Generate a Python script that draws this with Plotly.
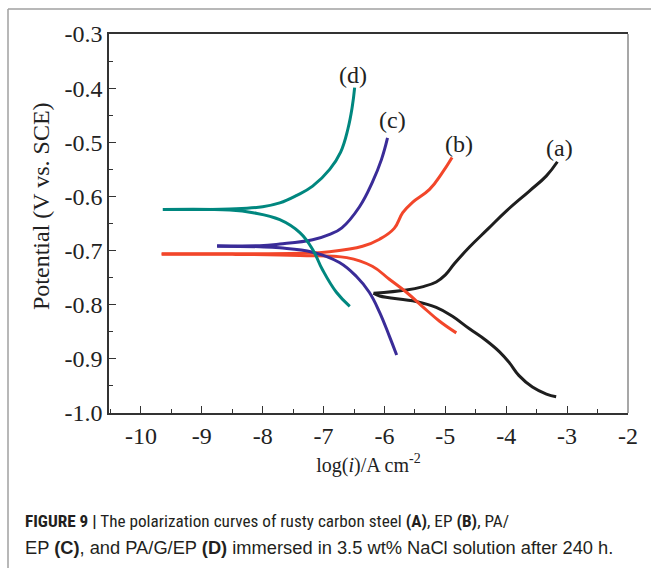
import plotly.graph_objects as go

# ---- data (log i in A/cm2, potential in V vs SCE) ----
a_cath_logi = [-6.18, -6.08, -5.48, -5.15, -4.89, -4.61, -4.33, -4.11, -3.95, -3.79, -3.57, -3.34, -3.18]
a_cath_E    = [-0.779, -0.784, -0.794, -0.805, -0.821, -0.844, -0.866, -0.887, -0.907, -0.931, -0.952, -0.965, -0.970]
a_anod_logi = [-6.18, -5.64, -5.38, -5.15, -5.00, -4.85, -4.60, -4.30, -4.00, -3.62, -3.34, -3.16]
a_anod_E    = [-0.779, -0.773, -0.767, -0.758, -0.745, -0.724, -0.693, -0.660, -0.627, -0.590, -0.562, -0.536]

b_cath_logi = [-9.66, -8.50, -7.39, -6.62, -6.20, -5.92, -5.64, -5.38, -5.10, -4.82]
b_cath_E    = [-0.707, -0.707, -0.709, -0.713, -0.729, -0.753, -0.777, -0.803, -0.830, -0.852]
b_anod_logi = [-9.66, -8.50, -7.39, -6.90, -6.36, -6.08, -5.84, -5.70, -5.54, -5.26, -5.05, -4.89]
b_anod_E    = [-0.706, -0.706, -0.705, -0.702, -0.692, -0.679, -0.659, -0.630, -0.611, -0.587, -0.556, -0.528]

c_cath_logi = [-8.75, -8.05, -7.72, -7.18, -6.74, -6.46, -6.25, -6.08, -5.92, -5.80]
c_cath_E    = [-0.692, -0.693, -0.695, -0.703, -0.722, -0.748, -0.777, -0.814, -0.858, -0.893]
c_anod_logi = [-8.75, -8.05, -7.72, -7.18, -6.90, -6.70, -6.41, -6.20, -6.05, -5.95]
c_anod_E    = [-0.691, -0.691, -0.688, -0.680, -0.670, -0.658, -0.619, -0.574, -0.532, -0.492]

d_cath_logi = [-9.64, -8.54, -8.16, -7.72, -7.39, -7.18, -7.02, -6.79, -6.57]
d_cath_E    = [-0.624, -0.625, -0.630, -0.643, -0.667, -0.698, -0.735, -0.777, -0.803]
d_anod_logi = [-9.64, -8.54, -8.00, -7.72, -7.44, -7.18, -6.90, -6.72, -6.60, -6.53, -6.49]
d_anod_E    = [-0.624, -0.623, -0.619, -0.612, -0.598, -0.581, -0.550, -0.518, -0.475, -0.435, -0.399]

curve_labels = ["(a)", "(b)", "(c)", "(d)"]
label_logi = [-3.13, -4.77, -5.87, -6.51]
label_E = [-0.510, -0.504, -0.458, -0.375]

x_tickvals = [-10, -9, -8, -7, -6, -5, -4, -3, -2]
x_ticktext = ["-10", "-9", "-8", "-7", "-6", "-5", "-4", "-3", "-2"]
y_tickvals = [-0.3, -0.4, -0.5, -0.6, -0.7, -0.8, -0.9, -1.0]
y_ticktext = ["-0.3", "-0.4", "-0.5", "-0.6", "-0.7", "-0.8", "-0.9", "-1.0"]

colors = ["#1e1e1e", "#f2462a", "#3a2c98", "#00877f"]

# ---- figure ----
W, H = 651, 568
L, R, T, B = 109, 628, 34, 413  # plot area pixel box

fig = go.Figure()
series = [
    (a_cath_logi, a_cath_E, a_anod_logi, a_anod_E),
    (b_cath_logi, b_cath_E, b_anod_logi, b_anod_E),
    (c_cath_logi, c_cath_E, c_anod_logi, c_anod_E),
    (d_cath_logi, d_cath_E, d_anod_logi, d_anod_E),
]
for (cx, cy, ax_, ay), col in zip(series, colors):
    for xs, ys in ((cx, cy), (ax_, ay)):
        fig.add_trace(go.Scatter(x=xs, y=ys, mode="lines",
                                 line=dict(color=col, width=3, shape="spline", smoothing=1.2),
                                 showlegend=False, hoverinfo="skip"))

serif = "Liberation Serif, Times New Roman, serif"
for t, lx, ly in zip(curve_labels, label_logi, label_E):
    fig.add_annotation(x=lx, y=ly, text=t, showarrow=False,
                       font=dict(family=serif, size=24, color="#222"),
                       xanchor="center", yanchor="middle")

def px_x(p):
    return (p - L) / (R - L)

def px_y(p):
    return (B - p) / (B - T)

shapes = [
    # outer figure frame
    dict(type="line", xref="paper", yref="paper", x0=px_x(8), x1=px_x(651), y0=px_y(9), y1=px_y(9),
         line=dict(color="#a0a0a0", width=1.5)),
    dict(type="line", xref="paper", yref="paper", x0=px_x(8), x1=px_x(8), y0=px_y(9), y1=px_y(568),
         line=dict(color="#a0a0a0", width=1.5)),
    # right side of plot box
    dict(type="line", xref="paper", yref="paper", x0=1, x1=1, y0=0, y1=1,
         line=dict(color="#8a8a8a", width=1.5)),
]

# y-axis title placed as an annotation (slightly above plot centre, as in the reference)
fig.add_annotation(xref="paper", yref="paper", x=px_x(41), y=px_y(206), textangle=-90,
                   xanchor="center", yanchor="middle", showarrow=False,
                   text="Potential (V vs. SCE)", font=dict(family=serif, size=24, color="#222"))

narrow = "Liberation Sans Narrow, Arial Narrow, Roboto Condensed, Noto Sans Condensed, DejaVu Sans Condensed, Liberation Sans, sans-serif"
fig.add_annotation(xref="paper", yref="paper", x=px_x(23), y=px_y(521), xanchor="left", yanchor="middle",
                   showarrow=False, align="left",
                   text="<b>FIGURE 9 |</b> The polarization curves of rusty carbon steel <b>(A)</b>, EP <b>(B)</b>, PA/",
                   font=dict(family=narrow, size=17.2, color="#231f20"))
fig.add_annotation(xref="paper", yref="paper", x=px_x(23), y=px_y(547), xanchor="left", yanchor="middle",
                   showarrow=False, align="left",
                   text="EP <b>(C)</b>, and PA/G/EP <b>(D)</b> immersed in 3.5 wt% NaCl solution after 240 h.",
                   font=dict(family="Liberation Sans, Arial, sans-serif", size=18.3, color="#231f20"))

fig.update_layout(
    width=W, height=H,
    margin=dict(l=L, r=W - R, t=T, b=H - B),
    paper_bgcolor="white", plot_bgcolor="white",
    shapes=shapes,
    xaxis=dict(range=[-10.525, -2], tickvals=x_tickvals, ticktext=x_ticktext,
               showgrid=False, zeroline=False, showline=True, linecolor="#333", linewidth=1.5,
               mirror=True, ticks="inside", ticklen=7, tickwidth=1.2, tickcolor="#333",
               minor=dict(ticks="inside", dtick=0.5, tick0=-10, ticklen=4, tickwidth=1.2, tickcolor="#333", showgrid=False),
               tickfont=dict(family=serif, size=24, color="#222"),
               title=dict(text="log(<i>i</i>)/A cm<sup>-2</sup>", font=dict(family=serif, size=20, color="#222"), standoff=10)),
    yaxis=dict(range=[-1.0, -0.3], tickvals=y_tickvals, ticktext=y_ticktext,
               showgrid=False, zeroline=False, showline=True, linecolor="#333", linewidth=1.5,
               ticks="inside", ticklen=7, tickwidth=1.2, tickcolor="#333",
               minor=dict(ticks="inside", dtick=0.05, tick0=-1.0, ticklen=4, tickwidth=1.2, tickcolor="#333", showgrid=False),
               tickfont=dict(family=serif, size=24, color="#222")),
)

fig.write_html("out.html")
